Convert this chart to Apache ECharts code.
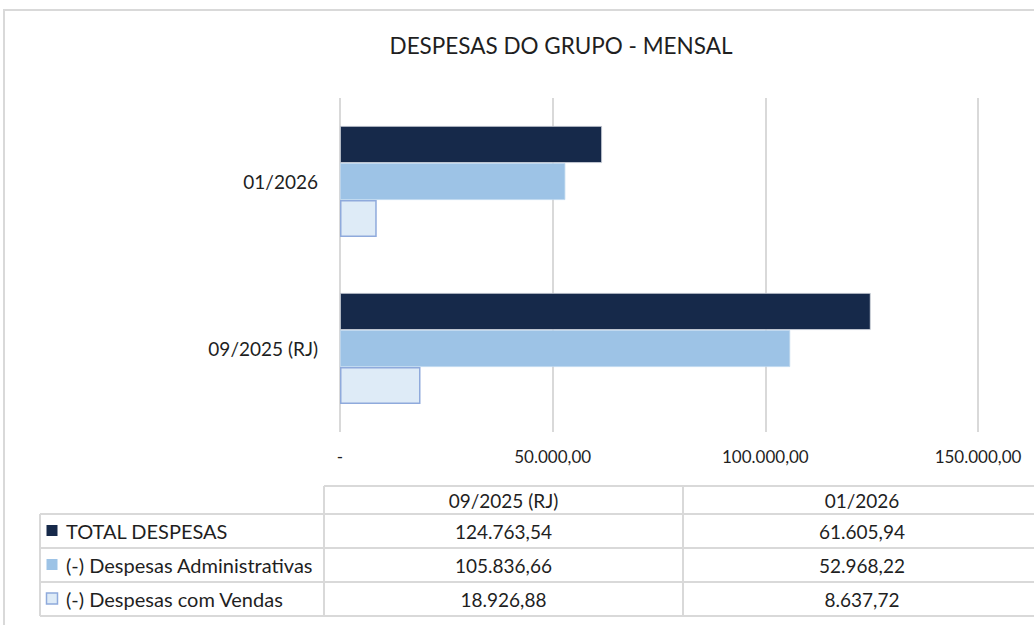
<!DOCTYPE html>
<html><head><meta charset="utf-8">
<script src="https://cdn.jsdelivr.net/npm/echarts@6/dist/echarts.min.js"></script>
<style>html,body{margin:0;padding:0;background:#fff}#c{width:1034px;height:625px}</style>
</head><body><div id="c"></div>
<script>
const categories = ['09/2025 (RJ)', '01/2026'];
const seriesNames = ['TOTAL DESPESAS', '(-) Despesas Administrativas', '(-) Despesas com Vendas'];
const totalDespesas = [124763.54, 61605.94];
const despAdmin = [105836.66, 52968.22];
const despVendas = [18926.88, 8637.72];
const xTicks = [0, 50000, 100000, 150000];

const FONT = 'Lato';
const TXT = '#1f1f1f';
const GRID = '#D9D9D9';
const colors = ['#16294A', '#9DC3E6', '#DEEBF7'];
const borders = ['#D0D5DD', '#BDD7EE', '#8FAADC'];

function fmtBR(v) {
  if (v === 0) return '-';
  const s = v.toFixed(2);
  let [i, d] = s.split('.');
  i = i.replace(/\B(?=(\d{3})+(?!\d))/g, '.');
  return i + ',' + d;
}

const seriesValues = [totalDespesas, despAdmin, despVendas];

// table graphic
const tbl = { left: 40, c1: 324, c2: 683, c3: 1041, yHead: 486, rows: [514, 548, 582, 616] };
const g = [];
const lineStyle = { stroke: GRID, lineWidth: 2 };
// outer chart border
g.push({ type: 'rect', shape: { x: 4, y: 10, width: 1200, height: 800 }, style: { fill: null, stroke: GRID, lineWidth: 2 }, silent: true });
// horizontal lines
g.push({ type: 'line', shape: { x1: tbl.c1, y1: tbl.yHead, x2: tbl.c3, y2: tbl.yHead }, style: lineStyle });
tbl.rows.forEach(y => g.push({ type: 'line', shape: { x1: tbl.left, y1: y, x2: tbl.c3, y2: y }, style: lineStyle }));
// vertical lines
g.push({ type: 'line', shape: { x1: tbl.left, y1: tbl.rows[0], x2: tbl.left, y2: tbl.rows[3] }, style: lineStyle });
[tbl.c1, tbl.c2, tbl.c3].forEach(x => g.push({ type: 'line', shape: { x1: x, y1: tbl.yHead, x2: x, y2: tbl.rows[3] }, style: lineStyle }));
// header texts (columns in category order)
const colCenters = [(tbl.c1 + tbl.c2) / 2, (tbl.c2 + tbl.c3) / 2];
categories.forEach((c, k) => g.push({ type: 'text', style: { text: c, x: colCenters[k], y: (tbl.yHead + tbl.rows[0]) / 2, align: 'center', verticalAlign: 'middle', fill: TXT, fontFamily: FONT, fontSize: 19 } }));
// rows
seriesNames.forEach((name, r) => {
  const yc = (tbl.rows[r] + tbl.rows[r + 1]) / 2;
  g.push({ type: 'rect', shape: { x: 46.5, y: yc - 6, width: 11, height: 11 }, style: { fill: colors[r], stroke: r === 2 ? borders[2] : null, lineWidth: r === 2 ? 1.5 : 0 } });
  g.push({ type: 'text', style: { text: name, x: 66, y: yc, align: 'left', verticalAlign: 'middle', fill: TXT, fontFamily: FONT, fontSize: 20 } });
  seriesValues[r].forEach((v, k) => g.push({ type: 'text', style: { text: fmtBR(v), x: colCenters[k], y: yc, align: 'center', verticalAlign: 'middle', fill: TXT, fontFamily: FONT, fontSize: 19 } }));
});

const chart = echarts.init(document.getElementById('c'), null, { renderer: 'svg' });
chart.setOption({
  animation: false,
  backgroundColor: '#fff',
  title: {
    text: 'DESPESAS DO GRUPO - MENSAL',
    left: 556, top: 29, textAlign: 'center',
    textStyle: { fontFamily: FONT, fontSize: 22.5, fontWeight: 'normal', color: TXT }
  },
  grid: { left: 340, right: 56, top: 98, bottom: 193, containLabel: false },
  xAxis: {
    type: 'value', min: xTicks[0], max: xTicks[xTicks.length - 1], interval: xTicks[1] - xTicks[0],
    axisLine: { show: false }, axisTick: { show: false },
    splitLine: { show: true, lineStyle: { color: GRID, width: 2 } },
    axisLabel: { formatter: v => fmtBR(v), margin: 16, fontFamily: FONT, fontSize: 17, color: TXT }
  },
  yAxis: {
    type: 'category', data: categories,
    axisLine: { show: false }, axisTick: { show: false },
    axisLabel: { margin: 22, fontFamily: FONT, fontSize: 19, color: TXT }
  },
  series: seriesNames.map((n, i) => ({
    name: n, type: 'bar', data: seriesValues[i],
    barGap: '0%', barCategoryGap: '33.5%',
    itemStyle: { color: colors[i], borderColor: borders[i], borderWidth: i === 2 ? 1.5 : 0.8 }
  })),
  graphic: g
});
</script></body></html>
